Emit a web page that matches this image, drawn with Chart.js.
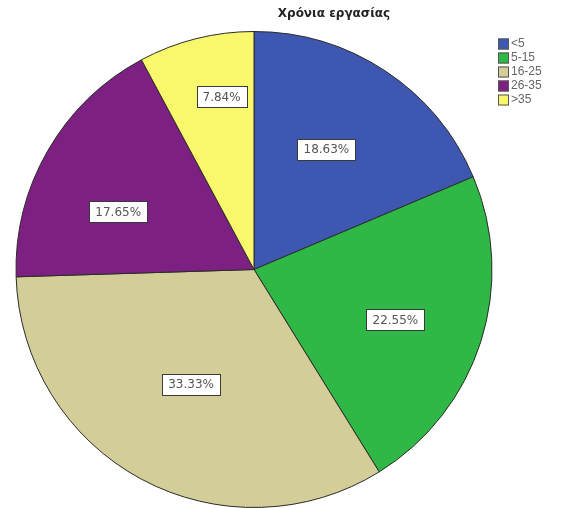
<!DOCTYPE html>
<html>
<head>
<meta charset="utf-8">
<script src="https://cdn.jsdelivr.net/npm/chart.js@4"></script>
<style>
  html, body { margin: 0; padding: 0; background: #fff; }
  #wrap { position: relative; width: 561px; height: 508px; }
</style>
</head>
<body>
<div id="wrap"><canvas id="pieChart" width="561" height="508"></canvas></div>
<script>
// Χρόνια εργασίας - ποσοστά ανά κατηγορία
const title = 'Χρόνια εργασίας';
const categories = ['<5', '5-15', '16-25', '26-35', '>35'];
const percents = [18.63, 22.55, 33.33, 17.65, 7.84];
const colors = ['#3e57b0', '#2fb846', '#d3cd98', '#7c2181', '#f9f76c'];

// θέση ετικέτας: κλάσμα της ακτίνας και μικρή στροφή (μοίρες) από το μέσο της φέτας
const labelRadius = [0.59, 0.63, 0.55, 0.62, 0.74];
const labelTurn = [-2.5, 1.8, 0.5, -7, 3.5];

const labelsPlugin = {
    id: 'sliceLabels',
    afterDatasetsDraw(chart) {
        const ctx = chart.ctx;
        const meta = chart.getDatasetMeta(0);
        ctx.save();
        ctx.font = '12px "DejaVu Sans", Verdana, sans-serif';
        ctx.textAlign = 'center';
        ctx.textBaseline = 'middle';
        meta.data.forEach((arc, i) => {
            const p = arc.getProps(['x', 'y', 'startAngle', 'endAngle', 'outerRadius'], true);
            const mid = (p.startAngle + p.endAngle) / 2 + labelTurn[i] * Math.PI / 180;
            const r = p.outerRadius * labelRadius[i];
            const x = p.x + Math.cos(mid) * r;
            const y = p.y + Math.sin(mid) * r;
            const txt = percents[i].toFixed(2) + '%';
            const w = Math.round(ctx.measureText(txt).width + 12);
            const h = 21;
            const bx = Math.round(x - w / 2) + 0.5;
            const by = Math.round(y - h / 2) + 0.5;
            ctx.fillStyle = '#ffffff';
            ctx.fillRect(bx, by, w, h);
            ctx.strokeStyle = '#3a3a3a';
            ctx.lineWidth = 1;
            ctx.strokeRect(bx, by, w, h);
            ctx.fillStyle = '#555';
            ctx.fillText(txt, x, y + 1);
        });
        ctx.restore();
    }
};

// τίτλος και υπόμνημα σχεδιάζονται στο canvas
const decorPlugin = {
    id: 'decor',
    afterDraw(chart) {
        const ctx = chart.ctx;
        ctx.save();
        ctx.fillStyle = '#222';
        ctx.font = 'bold 12px "DejaVu Sans", Verdana, sans-serif';
        ctx.textAlign = 'center';
        ctx.textBaseline = 'middle';
        ctx.fillText(title, 334, 14);

        ctx.font = '12px "Liberation Sans", Arial, sans-serif';
        ctx.textAlign = 'left';
        categories.forEach((c, i) => {
            const y = 44 + i * 14;
            ctx.fillStyle = colors[i];
            ctx.fillRect(498, y - 5.5, 11, 11);
            ctx.strokeStyle = '#555';
            ctx.lineWidth = 1;
            ctx.strokeRect(498.5, y - 5, 10, 10);
            ctx.fillStyle = '#666';
            ctx.fillText(c, 511, y);
        });
        ctx.restore();
    }
};

new Chart(document.getElementById('pieChart'), {
    type: 'pie',
    data: {
        labels: categories,
        datasets: [{
            data: percents,
            backgroundColor: colors,
            borderColor: '#2b2b2b',
            borderWidth: 1
        }]
    },
    options: {
        responsive: false,
        animation: false,
        layout: { padding: { left: 14, right: 67, top: 31, bottom: 0 } },
        plugins: {
            legend: { display: false },
            title: { display: false },
            tooltip: { enabled: false }
        }
    },
    plugins: [labelsPlugin, decorPlugin]
});
</script>
</body>
</html>
